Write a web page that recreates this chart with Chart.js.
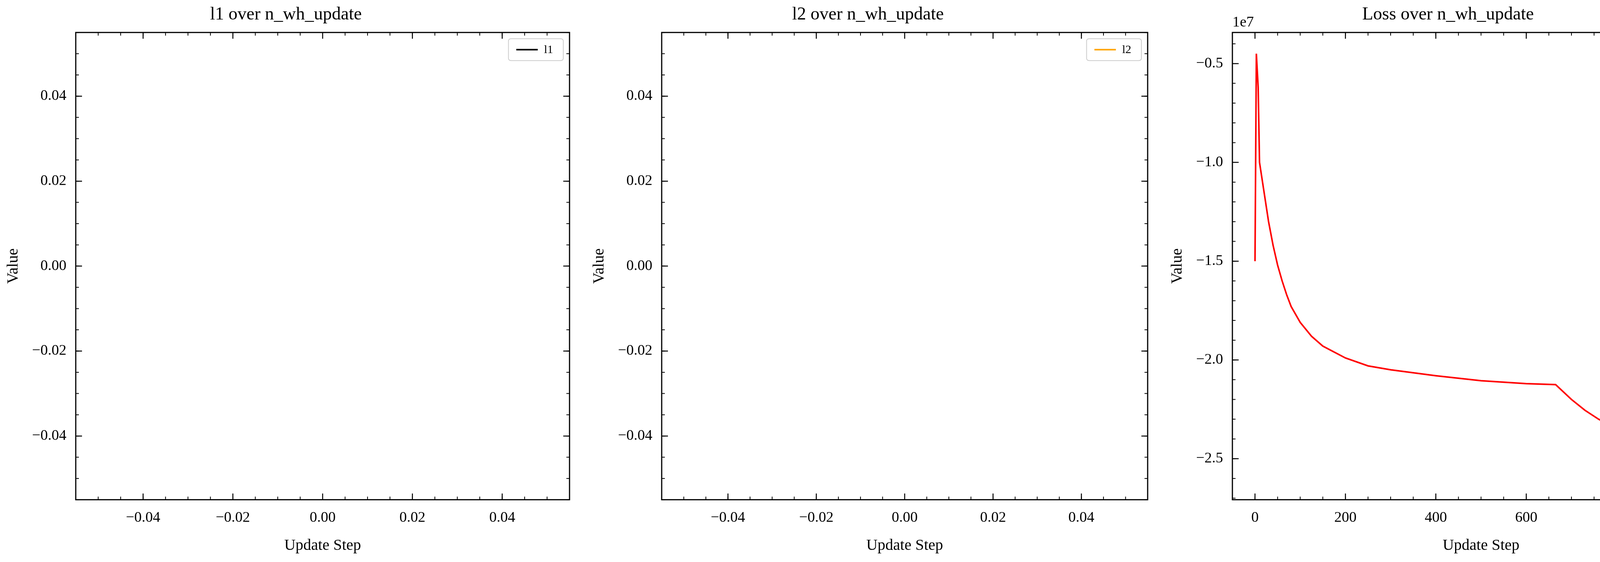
<!DOCTYPE html>
<html lang="en">
<head>
<meta charset="UTF-8" />
<title>n_wh_update</title>
<script src="https://cdn.jsdelivr.net/npm/chart.js"></script>
<style>
  body { margin: 0; background: #fff; width: 4440px; height: 1440px; overflow: hidden; position: relative; }
  canvas { position: absolute; top: 0; }
</style>
</head>
<body>
<canvas id="c1" width="1480" height="1440" style="left:0"></canvas>
<canvas id="c2" width="1460" height="1440" style="left:1500px"></canvas>
<canvas id="c3" width="1460" height="1440" style="left:2980px"></canvas>
<script>
// data
const lossSteps = [0, 3, 7, 10, 20, 30, 40, 50, 60, 70, 80, 100, 125, 150, 200, 250, 300, 400, 500, 600, 665, 700, 730, 760, 800, 900, 1000];
const lossValues = [-1.5e7, -0.45e7, -0.62e7, -1.0e7, -1.15e7, -1.3e7, -1.42e7, -1.52e7, -1.6e7, -1.67e7, -1.73e7, -1.81e7, -1.88e7, -1.93e7, -1.99e7, -2.03e7, -2.05e7, -2.08e7, -2.105e7, -2.12e7, -2.125e7, -2.2e7, -2.255e7, -2.3e7, -2.35e7, -2.49e7, -2.6e7];
const l1Values = [];
const l2Values = [];
const emptyTicks = [-0.04, -0.02, 0.00, 0.02, 0.04];
const lossXTicks = [0, 200, 400, 600, 800, 1000];
const lossYTicks = [-2.5e7, -2.0e7, -1.5e7, -1.0e7, -0.5e7];

const FONT = "'Liberation Serif', 'Times New Roman', serif";
const fmt = v => (v < 0 ? '\u2212' : '') + Math.abs(v).toFixed(2);
const fmt1 = v => (v < 0 ? '\u2212' : '') + Math.abs(v / 1e7).toFixed(1);

// inward ticks on all four sides, plus box, legend and offset text
const sciPlugin = {
  id: 'sci',
  afterDraw(chart, args, opts) {
    const ctx = chart.ctx, a = chart.chartArea;
    ctx.save();
    ctx.strokeStyle = '#000';
    ctx.lineWidth = 3;
    ctx.strokeRect(a.left, a.top, a.right - a.left, a.bottom - a.top);
    const drawAxis = (scale, horiz, minorDiv) => {
      const ticks = scale.ticks.map(t => t.value);
      const step = ticks[1] - ticks[0];
      const minor = [];
      for (let v = ticks[0] - step; v <= ticks[ticks.length - 1] + step + 1e-12; v += step / minorDiv) {
        if (v >= scale.min && v <= scale.max) minor.push(v);
      }
      const mark = (v, len, w) => {
        const p = scale.getPixelForValue(v);
        ctx.lineWidth = w;
        ctx.beginPath();
        if (horiz) {
          ctx.moveTo(p, a.bottom); ctx.lineTo(p, a.bottom - len);
          ctx.moveTo(p, a.top); ctx.lineTo(p, a.top + len);
        } else {
          ctx.moveTo(a.left, p); ctx.lineTo(a.left + len, p);
          ctx.moveTo(a.right, p); ctx.lineTo(a.right - len, p);
        }
        ctx.stroke();
      };
      minor.forEach(v => mark(v, 8, 2));
      ticks.forEach(v => mark(v, 16, 2.5));
    };
    drawAxis(chart.scales.x, true, opts.xMinor);
    drawAxis(chart.scales.y, false, opts.yMinor);

    // legend
    ctx.font = '30px ' + FONT;
    const tw = ctx.measureText(opts.label).width;
    const w = 28 + 55 + 16 + tw + 18, h = 56;
    const x0 = a.right - 16 - w, y0 = a.top + 16;
    ctx.lineWidth = 2;
    ctx.strokeStyle = '#ccc';
    ctx.fillStyle = 'rgba(255,255,255,0.8)';
    ctx.beginPath();
    ctx.roundRect(x0, y0, w, h, 6);
    ctx.fill(); ctx.stroke();
    ctx.strokeStyle = opts.color;
    ctx.lineWidth = 4;
    ctx.beginPath();
    ctx.moveTo(x0 + 20, y0 + h / 2); ctx.lineTo(x0 + 75, y0 + h / 2);
    ctx.stroke();
    ctx.fillStyle = '#000';
    ctx.textBaseline = 'middle';
    ctx.fillText(opts.label, x0 + 91, y0 + h / 2 + 1);

    if (opts.offset) {
      ctx.font = '38px ' + FONT;
      ctx.textBaseline = 'bottom';
      ctx.fillText(opts.offset, a.left, a.top - 6);
    }
    ctx.restore();
  }
};

function makeChart(id, cfg) {
  const canvas = document.getElementById(id);
  return new Chart(canvas, {
    type: 'line',
    data: {
      datasets: [{
        label: cfg.label,
        data: cfg.data,
        borderColor: cfg.color,
        borderWidth: 4,
        pointRadius: 0,
        tension: 0,
        fill: false
      }]
    },
    options: {
      responsive: false,
      devicePixelRatio: 1,
      animation: false,
      layout: { padding: cfg.padding },
      plugins: {
        legend: { display: false },
        tooltip: { enabled: false },
        title: {
          display: true, text: cfg.title, color: '#000',
          font: { family: FONT, size: 46, weight: 'normal' }, padding: { top: 0, bottom: 18 }
        },
        sci: { label: cfg.label, color: cfg.color, xMinor: 4, yMinor: cfg.yMinor, offset: cfg.offset }
      },
      scales: {
        x: {
          type: 'linear', min: cfg.xMin, max: cfg.xMax,
          grid: { display: false }, border: { display: false },
          ticks: {
            color: '#000', padding: 16,
            font: { family: FONT, size: 38 }, maxRotation: 0,
            callback: v => cfg.xFmt(v)
          },
          afterBuildTicks: s => { s.ticks = cfg.xTicks.map(v => ({ value: v })); },
          title: { display: true, text: 'Update Step', color: '#000', font: { family: FONT, size: 40 }, padding: { top: 8 } }
        },
        y: {
          type: 'linear', min: cfg.yMin, max: cfg.yMax,
          grid: { display: false }, border: { display: false },
          ticks: {
            color: '#000', padding: 16,
            font: { family: FONT, size: 38 },
            callback: v => cfg.yFmt(v)
          },
          afterBuildTicks: s => { s.ticks = cfg.yTicks.map(v => ({ value: v })); },
          title: { display: true, text: 'Value', color: '#000', font: { family: FONT, size: 40 }, padding: { bottom: 8 } }
        }
      }
    },
    plugins: [sciPlugin]
  });
}

makeChart('c1', {
  title: 'l1 over n_wh_update', label: 'l1', color: '#000000', data: l1Values,
  xMin: -0.055, xMax: 0.055, yMin: -0.055, yMax: 0.055,
  xTicks: emptyTicks, yTicks: emptyTicks, xFmt: fmt, yFmt: fmt, yMinor: 4,
  padding: { left: 6, right: 22, top: 10, bottom: 14 }
});
makeChart('c2', {
  title: 'l2 over n_wh_update', label: 'l2', color: '#FFA500', data: l2Values,
  xMin: -0.055, xMax: 0.055, yMin: -0.055, yMax: 0.055,
  xTicks: emptyTicks, yTicks: emptyTicks, xFmt: fmt, yFmt: fmt, yMinor: 4,
  padding: { left: 6, right: 22, top: 10, bottom: 14 }
});
makeChart('c3', {
  title: 'Loss over n_wh_update', label: 'Loss', color: '#FF0000',
  data: lossSteps.map((s, i) => ({ x: s, y: lossValues[i] })),
  xMin: -50, xMax: 1050, yMin: -2.7075e7, yMax: -0.3425e7,
  xTicks: lossXTicks, yTicks: lossYTicks,
  xFmt: v => String(v), yFmt: fmt1, yMinor: 5, offset: '1e7',
  padding: { left: 6, right: 12, top: 10, bottom: 14 }
});
</script>
</body>
</html>
